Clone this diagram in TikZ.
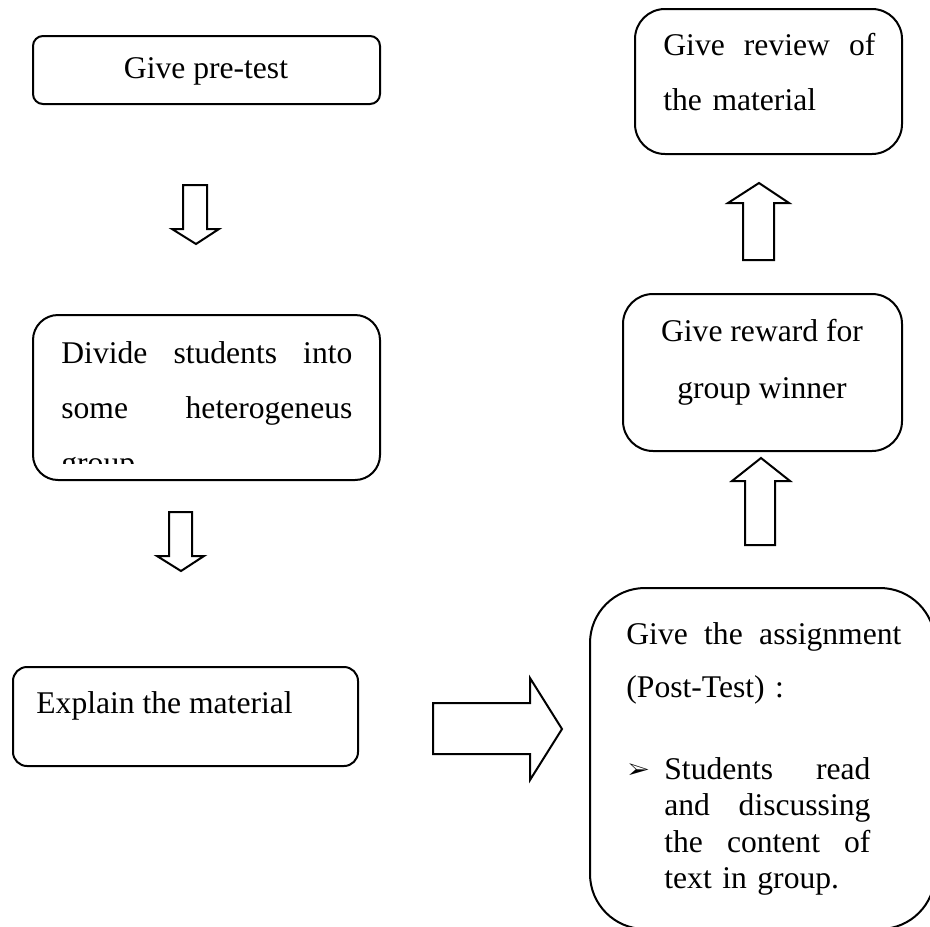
\documentclass[tikz,border=0pt]{standalone}
\usepackage{fontspec}
\setmainfont{Liberation Serif}
\usepackage{pifont}
\usetikzlibrary{fit}

\tikzset{
box/.style={draw,line width=1pt,rectangle,inner sep=0pt},
txt/.style={inner sep=0pt,font=\fontsize{15.8}{27.5}\selectfont},
blockarrow/.style={draw,line width=1pt,line join=miter}
}

\begin{document}
\begin{tikzpicture}[x=0.5pt,y=-0.5pt]

\useasboundingbox (0,0) rectangle (930,926);
\clip (0,0) rectangle (930,926);

% boxes
\node[box,rounded corners=5pt,fit={(33,36) (380,104)}] (pretest) {};
\node[box,rounded corners=12.5pt,fit={(33,315) (380,480)}] (divide) {};
\node[box,rounded corners=7pt,fit={(13,667) (358,766)}] (explain) {};
\node[box,rounded corners=27.5pt,fit={(590,588) (935,929)}] (assign) {};
\node[box,rounded corners=15pt,fit={(623,294) (902,451)}] (reward) {};
\node[box,rounded corners=15pt,fit={(635,9) (902,154)}] (review) {};

% texts
\node[txt,anchor=base] (pretestlbl) at (206,78) {Give pre-test};
\begin{scope}
\clip (40,320) rectangle (375,463);
\node[txt,anchor=base west,text width=145.5pt,align=left] (dividelbl) at (61,363)
{Divide\hfill students\hfill into\\some\hfill heterogeneus\\group};
\end{scope}
\node[txt,anchor=base west] (explainlbl) at (36,713) {Explain the material};
\node[txt,anchor=base west,text width=137.5pt,align=left,font=\fontsize{15.8}{26.5}\selectfont] (assignlbl) at (626,644)
{Give\hfill the\hfill assignment\\(Post-Test) :};
\node[txt,anchor=base west] (bulletmark) at (628,777) {\scalebox{0.72}{\ding{226}}};
\node[txt,anchor=base west,text width=103pt,align=left,font=\fontsize{15.8}{18.25}\selectfont] (bulletlbl) at (664,779)
{Students\hfill read\\and\hfill discussing\\the\hfill content\hfill of\\text in group.};
\node[txt,anchor=base,font=\fontsize{15.8}{28.5}\selectfont] (rewardlbl) at (762,341) {Give reward for};
\node[txt,anchor=base,font=\fontsize{15.8}{28.5}\selectfont] (rewardlbltwo) at (762,398) {group winner};
\node[txt,anchor=base west,text width=106pt,align=left] (reviewlbl) at (663,55)
{Give\hfill review\hfill of\\the material};

% block arrows
\draw[blockarrow] (183,185)--(207,185)--(207,229)--(219,229)--(196,244)--(172,229)--(183,229)--cycle;
\draw[blockarrow] (169,512)--(192,512)--(192,556)--(204,556)--(181,571)--(157,556)--(169,556)--cycle;
\draw[blockarrow] (433,703)--(530,703)--(530,678)--(562,729)--(530,780)--(530,754)--(433,754)--cycle;
\draw[blockarrow] (745,545)--(775,545)--(775,481)--(790,481)--(761,458)--(732,481)--(745,481)--cycle;
\draw[blockarrow] (743,260)--(774,260)--(774,203)--(789,203)--(759,183)--(728,203)--(743,203)--cycle;

\end{tikzpicture}
\end{document}
